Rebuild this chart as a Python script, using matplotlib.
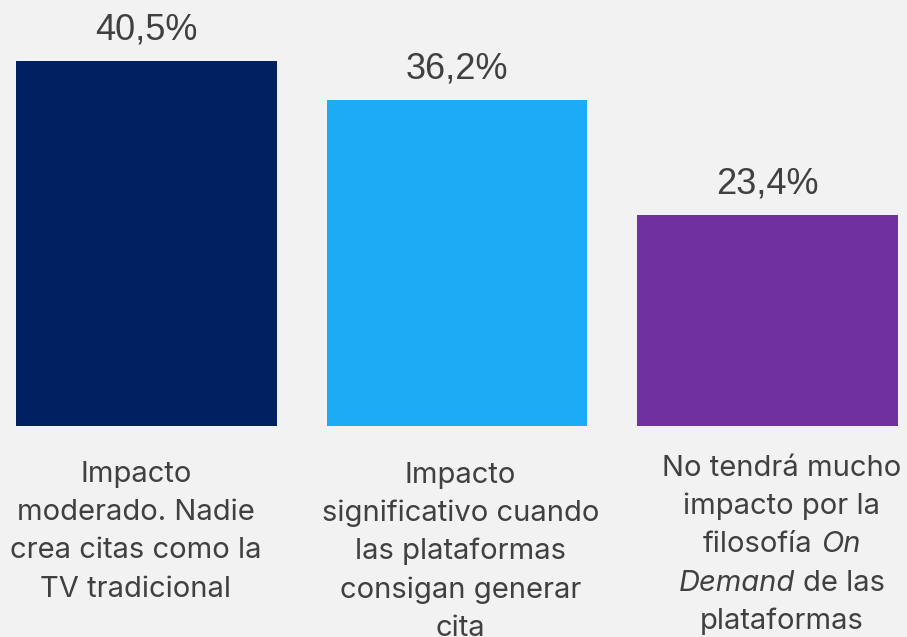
import numpy as np
import matplotlib
matplotlib.use("Agg")
import matplotlib.pyplot as plt

# survey results, share of answers per option
valores = [40.5, 36.2, 23.4]
etiquetas_valor = ["40,5%", "36,2%", "23,4%"]
colores = ["#002060", "#1bacf5", "#7030a0"]

# category text, line by line; each piece is (text, italic)
categorias = [
    [[("Impacto", False)],
     [("moderado. Nadie", False)],
     [("crea citas como la", False)],
     [("TV tradicional", False)]],
    [[("Impacto", False)],
     [("significativo cuando", False)],
     [("las plataformas", False)],
     [("consigan generar", False)],
     [("cita", False)]],
    [[("No tendrá mucho", False)],
     [("impacto por la", False)],
     [("filosofía", False), ("On", True)],
     [("Demand", True), ("de las", False)],
     [("plataformas", False)]],
]

gris = "#404040"
fuente_cat = "Inter"
tam_cat = 21

fig = plt.figure(figsize=(9.07, 6.37), dpi=100)
fig.patch.set_facecolor("#f2f2f2")
ax = fig.add_axes([0, 0, 1, 1])
ax.set_facecolor("#f2f2f2")

x = np.arange(len(valores))
barras = ax.bar(x, valores, width=0.84, color=colores)
ax.set_xlim(-0.4718, 2.4493)
ax.set_ylim(-23.42, 47.28)
ax.axis("off")

for xi, v, txt in zip(x, valores, etiquetas_valor):
    ax.annotate(txt, (xi, v), xytext=(0, 15.6), textcoords="offset points",
                ha="center", va="baseline", fontsize=26,
                family="Liberation Sans", color=gris)

renderer = fig.canvas.get_renderer()
pt = 72.0 / fig.dpi


def ancho(s, italic=False):
    t = fig.text(0, 0, s, fontsize=tam_cat, family=fuente_cat,
                 style="italic" if italic else "normal")
    w = t.get_window_extent(renderer).width * pt
    t.remove()
    return w


espacio = ancho("a a") - ancho("aa")

# horizontal shift and first baseline (points) of each category block
desp_x = [-7.6, 2.5, 10.4]
base_y = [-40.3, -41.0, -36.0]
paso = 27.5

for xi, lineas, dx, y0 in zip(x, categorias, desp_x, base_y):
    for j, piezas in enumerate(lineas):
        anchos = [ancho(s, it) for s, it in piezas]
        total = sum(anchos) + espacio * (len(piezas) - 1)
        pos = dx - total / 2
        for (s, it), w in zip(piezas, anchos):
            ax.annotate(s, (xi, 0), xytext=(pos, y0 - j * paso),
                        textcoords="offset points", ha="left", va="baseline",
                        fontsize=tam_cat, family=fuente_cat, color=gris,
                        style="italic" if it else "normal",
                        annotation_clip=False)
            pos += w + espacio

fig.savefig("out.png", dpi=100, facecolor=fig.get_facecolor())
